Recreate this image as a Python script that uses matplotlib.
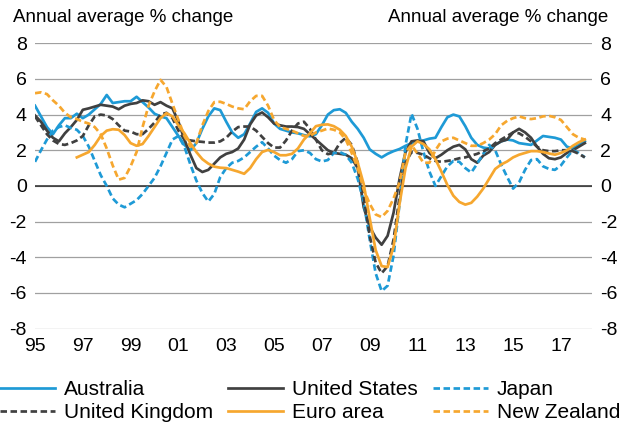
import matplotlib.pyplot as plt
import pandas as pd

plt.rcParams['font.family'] = ['Liberation Sans', 'DejaVu Sans']
plt.rcParams['axes.unicode_minus'] = False

# quarterly year-ended GDP growth, 1995Q1 to 2018Q1
quarters = pd.period_range('1995Q1', '2018Q1', freq='Q')
years = quarters.year + (quarters.quarter - 1) / 4

australia = [4.5, 3.9, 3.3, 2.9,  3.4, 3.8, 3.8, 4.05,  3.8, 4.0, 4.3, 4.6,
             5.1, 4.65, 4.7, 4.75,  4.75, 5.0, 4.7, 4.4,  4.05, 3.9, 3.8, 3.3,
             2.8, 2.3, 2.0, 2.4,  3.2, 3.9, 4.35, 4.25,  3.6, 3.0, 2.7, 2.9,
             3.5, 4.15, 4.35, 4.1,  3.5, 3.2, 3.1, 3.0,  2.95, 2.85, 2.78, 2.9,
             3.4, 4.0, 4.25, 4.3,  4.1, 3.6, 3.2, 2.7,  2.05, 1.8, 1.6, 1.8,
             1.95, 2.07, 2.25, 2.4,  2.5, 2.55, 2.65, 2.7,  3.3, 3.85, 4.0, 3.9,
             3.35, 2.7, 2.3, 2.15,  2.1, 2.3, 2.5, 2.6,  2.55, 2.4, 2.35, 2.3,
             2.55, 2.8, 2.75, 2.7,  2.6, 2.2, 2.1, 2.3,  2.5]
united_states = [3.95, 3.6, 3.1, 2.7,  2.5, 2.95, 3.3, 3.7,  4.27, 4.35, 4.45, 4.55,
                 4.5, 4.45, 4.3, 4.5,  4.6, 4.65, 4.8, 4.75,  4.55, 4.7, 4.5, 4.35,
                 3.6, 2.6, 1.75, 1.0,  0.78, 0.9, 1.25, 1.6,  1.8, 1.9, 2.1, 2.6,
                 3.45, 3.95, 4.12, 3.85,  3.5, 3.4, 3.33, 3.33,  3.3, 3.2, 2.9, 2.6,
                 2.3, 2.0, 1.85, 1.8,  1.75, 1.55, 1.0, -1.2,  -2.3, -2.9, -3.3, -2.8,
                 -1.5, 0.4, 1.9, 2.5,  2.55, 2.5, 1.85, 1.55,  1.75, 2.0, 2.2, 2.3,
                 2.05, 1.5, 1.3, 1.7,  1.9, 2.3, 2.5, 2.6,  3.0, 3.2, 3.0, 2.7,
                 2.2, 1.8, 1.55, 1.5,  1.6, 1.85, 2.0, 2.2,  2.4]
japan = [1.35, 2.0, 2.6, 3.1,  3.3, 3.4, 3.25, 3.15,  2.8, 2.2, 1.4, 0.6,
         0.0, -0.7, -1.05, -1.2,  -1.0, -0.8, -0.45, 0.0,  0.45, 1.1, 1.85, 2.6,
         2.8, 2.2, 1.2, 0.3,  -0.4, -0.88, -0.45, 0.5,  1.0, 1.3, 1.4, 1.6,
         1.9, 2.2, 2.45, 2.1,  1.7, 1.45, 1.3, 1.5,  1.95, 2.0, 1.85, 1.5,
         1.37, 1.45, 1.85, 1.9,  1.74, 1.3, 0.4, -0.9,  -3.0, -4.9, -5.9, -5.6,
         -3.9, -1.0, 2.3, 4.05,  3.2, 1.9, 0.8, 0.0,  0.55, 1.1, 1.4, 1.35,
         1.0, 0.75, 1.25, 1.8,  2.3, 2.0, 1.2, 0.5,  -0.15, 0.2, 0.9, 1.45,
         1.5, 1.1, 0.95, 0.9,  1.15, 1.6, 2.0, 1.85,  1.6]
united_kingdom = [3.9, 3.4, 2.9, 2.55,  2.35, 2.3, 2.4, 2.55,  2.8, 3.4, 3.9, 4.0,
                  3.95, 3.75, 3.4, 3.1,  3.05, 2.9, 2.9, 3.2,  3.55, 4.0, 4.1, 3.8,
                  3.1, 2.6, 2.55, 2.5,  2.47, 2.43, 2.43, 2.5,  2.7, 3.05, 3.3, 3.33,
                  3.33, 3.1, 2.75, 2.4,  2.15, 2.15, 2.55, 3.1,  3.5, 3.6, 3.2, 2.6,
                  2.0, 1.78, 1.85, 2.4,  2.7, 2.3, 1.3, -0.6,  -2.8, -4.3, -4.9, -4.5,
                  -3.0, -0.6, 1.3, 1.9,  1.85, 1.75, 1.55, 1.4,  1.35, 1.4, 1.46, 1.55,
                  1.6, 1.7, 1.8, 1.95,  2.1, 2.4, 2.6, 2.8,  3.0, 2.95, 2.75, 2.5,
                  2.2, 2.0, 1.95, 1.95,  2.0, 2.0, 1.95, 1.8,  1.6]
# euro area series begins in 1996Q4
euro_start = 7
euro_area = [1.6,
             1.75, 1.9, 2.3, 2.8,  3.1, 3.18, 3.15, 2.85,  2.4, 2.25, 2.35, 2.8,
             3.3, 3.8, 4.08, 3.9,  3.4, 2.95, 2.4, 1.9,  1.5, 1.25, 1.08, 1.02,
             1.0, 0.9, 0.8, 0.68,  1.0, 1.5, 1.9, 2.02,  1.9, 1.72, 1.72, 1.8,
             2.1, 2.6, 2.95, 3.35,  3.43, 3.45, 3.35, 3.15,  2.8, 2.2, 1.3, 0.1,
             -1.8, -3.6, -4.5, -4.55,  -3.4, -1.0, 1.0, 2.2,  2.5, 2.35, 2.05, 1.5,
             0.8, 0.05, -0.55, -0.9,  -1.05, -0.95, -0.6, -0.15,  0.4, 0.95, 1.2, 1.37,
             1.6, 1.75, 1.85, 1.95,  1.95, 1.9, 1.82, 1.75,  1.85, 2.0, 2.25, 2.45,
             2.6]
new_zealand = [5.2, 5.25, 5.15, 4.8,  4.5, 4.1, 3.85, 3.75,  3.6, 3.5, 3.3, 2.9,
               2.1, 1.15, 0.35, 0.45,  1.1, 1.9, 3.3, 4.5,  5.3, 5.95, 5.55, 4.6,
               3.7, 2.8, 2.2, 2.4,  3.4, 4.2, 4.7, 4.72,  4.6, 4.45, 4.35, 4.3,
               4.75, 5.05, 5.05, 4.5,  3.7, 3.3, 3.2, 3.1,  2.95, 2.8, 2.8, 3.0,
               3.1, 3.22, 3.15, 3.0,  2.6, 1.84, 1.0, -0.2,  -1.0, -1.6, -1.75, -1.4,
               -0.7, 0.2, 1.9, 2.3,  1.8, 1.3, 1.3, 2.0,  2.5, 2.65, 2.7, 2.55,
               2.4, 2.25, 2.25, 2.4,  2.6, 2.9, 3.4, 3.65,  3.8, 3.9, 3.8, 3.75,
               3.8, 3.9, 3.93, 3.85,  3.7, 3.3, 2.9, 2.7,  2.6]

year_ticks = list(range(1995, 2018, 2))
year_labels = ['95', '97', '99', '01', '03', '05', '07', '09', '11', '13', '15', '17']
y_ticks = list(range(-8, 9, 2))

blue = '#1E9AD6'
grey = '#404040'
orange = '#F6A72F'
dash = (2.4, 1.3)
lw = 1.95

fig = plt.figure(figsize=(6.25, 4.28), dpi=100)
ax = fig.add_axes([35 / 625, 1 - 328.5 / 428, 557 / 625, 285.2 / 428])

l_aus, = ax.plot(years, australia, color=blue, lw=lw, label='Australia')
l_us, = ax.plot(years, united_states, color=grey, lw=lw, label='United States')
l_jp, = ax.plot(years, japan, color=blue, lw=lw, dashes=dash, label='Japan')
l_uk, = ax.plot(years, united_kingdom, color=grey, lw=lw, dashes=dash, label='United Kingdom')
l_ea, = ax.plot(years[euro_start:], euro_area, color=orange, lw=lw, label='Euro area')
l_nz, = ax.plot(years, new_zealand, color=orange, lw=lw, dashes=dash, label='New Zealand')

ax.set_xlim(1995, 2018.3)
ax.set_ylim(-8, 8)
ax.set_xticks(year_ticks)
ax.set_xticklabels(year_labels)
ax.set_yticks(y_ticks)
ax.tick_params(axis='both', length=0, labelsize=14, colors='black')
ax.tick_params(axis='y', pad=6, labelright=True)
ax.tick_params(axis='x', pad=6.5)
for s in ax.spines.values():
    s.set_visible(False)
ax.yaxis.grid(True, color='#A0A0A0', lw=0.9)
ax.set_axisbelow(True)
ax.axhline(0, color='#2B2B2B', lw=1.1, zorder=1)

fig.text(13 / 625, 1 - 17 / 428, 'Annual average % change', va='center', ha='left', fontsize=13.5)
fig.text(608 / 625, 1 - 17 / 428, 'Annual average % change', va='center', ha='right', fontsize=13.5)

# legend laid out as three columns of two rows
for x0, pair in [(0, [l_aus, l_uk]), (228, [l_us, l_ea]), (433, [l_jp, l_nz])]:
    fig.legend(handles=pair, loc='center left', bbox_to_anchor=(x0 / 625, 1 - 401 / 428),
               frameon=False, borderpad=0, borderaxespad=0, handlelength=2.65,
               handletextpad=0.4, labelspacing=0.2, fontsize=15)

fig.savefig('out.png', dpi=100)
